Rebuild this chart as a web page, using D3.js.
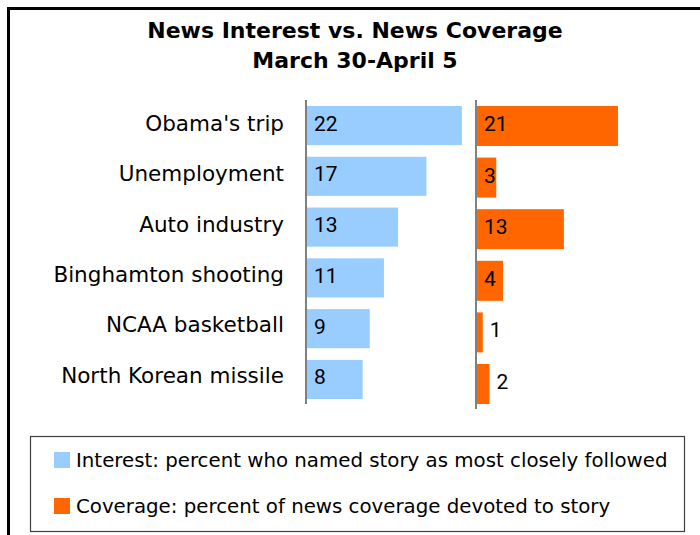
<!DOCTYPE html>
<html>
<head>
<meta charset="utf-8">
<script src="https://cdn.jsdelivr.net/npm/d3@7"></script>
<style>
  html, body { margin: 0; background: #fff; overflow: hidden; }
  svg { display: block; }
</style>
</head>
<body>
<div id="chart"></div>
<script>
const titleLines = ['News Interest vs. News Coverage', 'March 30-April 5'];
const stories = [
  "Obama's trip",
  'Unemployment',
  'Auto industry',
  'Binghamton shooting',
  'NCAA basketball',
  'North Korean missile',
];
const interest = [22, 17, 13, 11, 9, 8];
const coverage = [21, 3, 13, 4, 1, 2];
const legendLabels = [
  'Interest: percent who named story as most closely followed',
  'Coverage: percent of news coverage devoted to story',
];

const colors = { interest: '#99CCFF', coverage: '#FF6600' };

const size = { width: 700, height: 535 };

const svg = d3
  .select('#chart')
  .append('svg')
  .attr('width', size.width)
  .attr('height', size.height);

// outer frame, runs off the right and bottom edge like the original
svg
  .append('rect')
  .attr('x', 8.5)
  .attr('y', 8.5)
  .attr('width', 710)
  .attr('height', 550)
  .attr('fill', 'none')
  .attr('stroke', '#000')
  .attr('stroke-width', 3);

svg
  .selectAll('.title')
  .data(titleLines)
  .join('text')
  .attr('class', 'title')
  .attr('x', 355)
  .attr('y', (d, i) => 37.5 + i * 30)
  .attr('text-anchor', 'middle')
  .attr('font-family', 'DejaVu Sans')
  .attr('font-weight', 'bold')
  .attr('font-size', 22)
  .attr('fill', '#000')
  .text((d) => d);

/*
  SCALES
*/
const yInt = d3
  .scaleBand()
  .domain(stories)
  .range([100, 405])
  .paddingInner(0.23)
  .paddingOuter(0.118);

const yCov = d3
  .scaleBand()
  .domain(stories)
  .range([100, 410])
  .paddingInner(0.225)
  .paddingOuter(0.116);

const yLabel = d3.scalePoint().domain(stories).range([123, 375]);

const xInt = d3.scaleLinear().domain([0, 24]).range([306, 476]);
const xCov = d3.scaleLinear().domain([0, 25]).range([476, 645]);

// category labels
svg
  .selectAll('.cat')
  .data(stories)
  .join('text')
  .attr('class', 'cat')
  .attr('x', 284)
  .attr('y', (d) => yLabel(d))
  .attr('dy', '0.36em')
  .attr('text-anchor', 'end')
  .attr('font-family', 'DejaVu Sans')
  .attr('font-size', 21.5)
  .attr('fill', '#000')
  .text((d) => d);

/*
  bars
*/
const rows = stories.map((s, i) => ({ story: s, interest: interest[i], coverage: coverage[i] }));

svg
  .selectAll('.bar-int')
  .data(rows)
  .join('rect')
  .attr('class', 'bar-int')
  .attr('x', xInt(0))
  .attr('y', (d) => yInt(d.story))
  .attr('width', (d) => xInt(d.interest) - xInt(0))
  .attr('height', yInt.bandwidth())
  .attr('fill', colors.interest);

svg
  .selectAll('.bar-cov')
  .data(rows)
  .join('rect')
  .attr('class', 'bar-cov')
  .attr('x', xCov(0))
  .attr('y', (d) => yCov(d.story))
  .attr('width', (d) => xCov(d.coverage) - xCov(0))
  .attr('height', yCov.bandwidth())
  .attr('fill', colors.coverage);

svg
  .selectAll('.lab-int')
  .data(rows)
  .join('text')
  .attr('class', 'lab-int')
  .attr('x', xInt(0) + 8)
  .attr('y', (d) => yInt(d.story) + yInt.bandwidth() / 2 + 5)
  .attr('font-family', 'Roboto')
  .attr('font-size', 21)
  .attr('fill', '#000')
  .text((d) => d.interest);

// tiny bars get the value just past the bar end
svg
  .selectAll('.lab-cov')
  .data(rows)
  .join('text')
  .attr('class', 'lab-cov')
  .attr('x', (d) => (d.coverage <= 2 ? xCov(d.coverage) + 7 : xCov(0) + 8))
  .attr('y', (d) => yCov(d.story) + yCov.bandwidth() / 2 + 5)
  .attr('font-family', 'Roboto')
  .attr('font-size', 21)
  .attr('fill', '#000')
  .text((d) => d.coverage);

// baselines
[
  [xInt(0), yInt.range()],
  [xCov(0), yCov.range()],
].forEach(([x, r]) => {
  svg
    .append('line')
    .attr('x1', x)
    .attr('x2', x)
    .attr('y1', r[0])
    .attr('y2', r[1] - 1)
    .attr('stroke', '#808080')
    .attr('stroke-width', 2);
});

/*
  legend
*/
const legend = svg.append('g');

legend
  .append('rect')
  .attr('x', 30.5)
  .attr('y', 436.5)
  .attr('width', 654)
  .attr('height', 95)
  .attr('fill', '#fff')
  .attr('stroke', '#404040')
  .attr('stroke-width', 1.2);

const items = legend
  .selectAll('g')
  .data(legendLabels)
  .join('g')
  .attr('transform', (d, i) => `translate(54, ${452 + i * 46})`);

items
  .append('rect')
  .attr('width', 16)
  .attr('height', 16)
  .attr('fill', (d, i) => (i === 0 ? colors.interest : colors.coverage));

items
  .append('text')
  .attr('x', 22)
  .attr('y', 8)
  .attr('dy', '0.36em')
  .attr('font-family', 'DejaVu Sans')
  .attr('font-size', 19.8)
  .attr('fill', '#000')
  .text((d) => d);
</script>
</body>
</html>
